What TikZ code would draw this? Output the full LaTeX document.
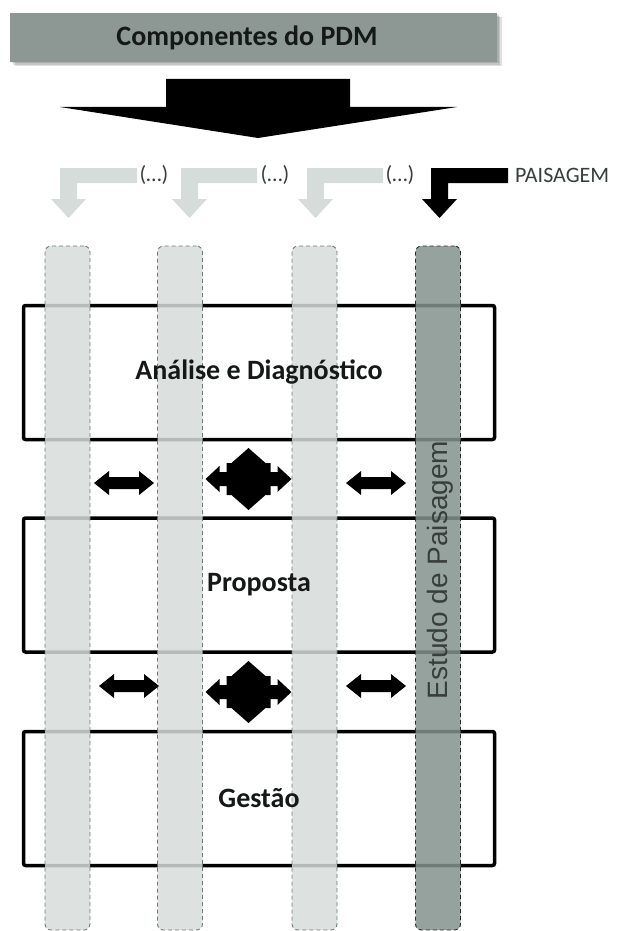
\documentclass[tikz,border=0pt]{standalone}
\usepackage{fontspec}
\setmainfont{Carlito}
\newfontfamily\lanefont{Liberation Sans}
\definecolor{barfill}{RGB}{141,152,148}
\definecolor{lanelight}{RGB}{215,220,218}
\definecolor{lanedark}{RGB}{131,146,140}
\definecolor{laneedge}{RGB}{110,124,119}
\definecolor{laneedgedark}{RGB}{40,46,44}
\definecolor{flowlight}{RGB}{214,220,218}
\definecolor{inktext}{RGB}{20,24,22}
\definecolor{softtext}{RGB}{55,62,60}
\tikzset{
  titlebar/.style={fill=barfill, minimum width=487pt, minimum height=49pt, inner sep=0pt, outer sep=0pt},
  stagebox/.style={draw=black, line width=3.5pt, fill=white, rounded corners=2pt,
    minimum width=471pt, minimum height=134pt, inner sep=0pt, outer sep=0pt},
  lane/.style={draw=laneedge, dash pattern=on 4pt off 3pt, line width=0.9pt,
    fill=lanelight, fill opacity=0.85, rounded corners=6pt,
    minimum width=45pt, minimum height=684pt, inner sep=0pt, outer sep=0pt},
  keylane/.style={lane, fill=lanedark, draw=laneedgedark},
  stagelabel/.style={font=\bfseries\fontsize{28}{30}\selectfont, text=inktext, inner sep=0pt},
  dotslabel/.style={font=\fontsize{22}{24}\selectfont, text=softtext, inner sep=0pt},
  pics/dblarrow/.style={code={
    \fill[black] (-30,0) -- (-15,-12) -- (-15,-6) -- (15,-6) -- (15,-12) -- (30,0)
      -- (15,12) -- (15,6) -- (-15,6) -- (-15,12) -- cycle;}},
  pics/quadarrow/.style={code={
    \fill[black] (0,-31) -- (17,-16) -- (22,-16) -- (22,-7) -- (29,-7) -- (29,-13)
      -- (43,0) -- (29,13) -- (29,7) -- (22,7) -- (22,16) -- (17,16) -- (0,31)
      -- (-17,16) -- (-22,16) -- (-22,7) -- (-29,7) -- (-29,13) -- (-43,0)
      -- (-29,-13) -- (-29,-7) -- (-22,-7) -- (-22,-16) -- (-17,-16) -- cycle;}}
}
\begin{document}
\begin{tikzpicture}[x=1pt,y=-1pt]
\useasboundingbox (0,0) rectangle (619,931);

% title bar with soft shadow
\foreach \d in {1.5,3,4.5}
  \fill[black, opacity=0.12] (10+\d,13+\d) rectangle (497+\d,62+\d);
\node[titlebar] (title) at (253.5,37.5) {};
\node[stagelabel] (titletext) at (247,37.5) {Componentes do PDM};

% large downward arrow
\fill[black] (166,79) -- (350,79) -- (350,107) -- (457,107) -- (258,138)
  -- (60,107) -- (166,107) -- cycle;

% bent feeder arrows
\foreach \L/\B/\c in {60/137/flowlight, 181/257/flowlight, 307/383/flowlight, 431/508/black}{
  \fill[\c] (\L,168) -- (\B,168) -- (\B,183) -- (\L+17,183) -- (\L+17,199)
    -- (\L+26,199) -- (\L+8.5,218) -- (\L-9,199) -- (\L,199) -- cycle;
}
\node[dotslabel] (dots1) at (154,175) {(…)};
\node[dotslabel] (dots2) at (275,175) {(…)};
\node[dotslabel] (dots3) at (400,175) {(…)};
\node[dotslabel, anchor=west] (paisagem) at (515,175) {PAISAGEM};

% stages
\node[stagebox] (analise) at (259,372.5) {};
\node[stagebox] (proposta) at (259,585) {};
\node[stagebox] (gestao) at (259,798.5) {};

% lanes over the stages
\node[lane] (lane1) at (67.5,588) {};
\node[lane] (lane2) at (180,588) {};
\node[lane] (lane3) at (314.5,588) {};
\node[keylane] (lane4) at (438,588) {};

% stage labels
\node[stagelabel] at (analise.center) {Análise e Diagnóstico};
\node[stagelabel] at (proposta.center) {Proposta};
\node[stagelabel] at (gestao.center) {Gestão};
\node[rotate=90, font=\lanefont\fontsize{28}{30}\selectfont, text=softtext, inner sep=0pt]
  (lanelabel) at (440,570) {Estudo de Paisagem};

% exchange arrows between stages
\pic at (124,483) {dblarrow};
\pic at (248.5,479) {quadarrow};
\pic at (376,483) {dblarrow};
\pic at (129,686) {dblarrow};
\pic at (248.5,692) {quadarrow};
\pic at (376,686) {dblarrow};
\end{tikzpicture}
\end{document}
